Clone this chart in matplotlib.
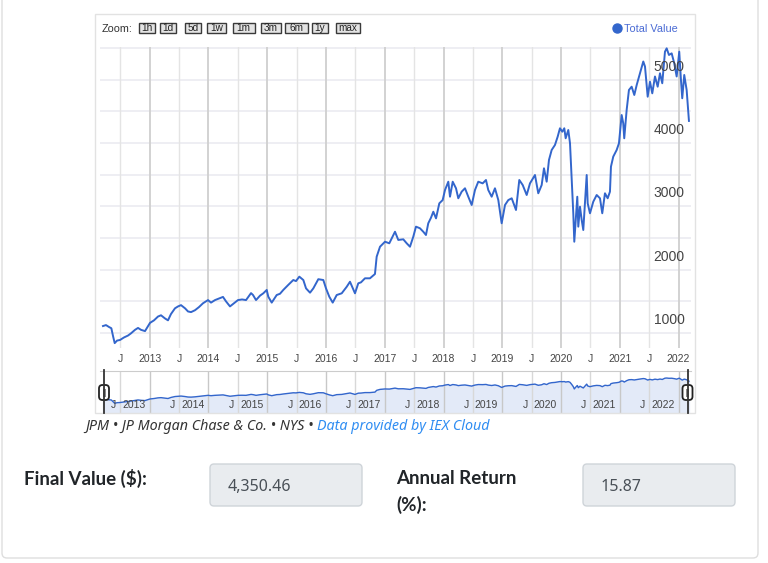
import matplotlib
matplotlib.use("Agg")
import matplotlib.pyplot as plt
from matplotlib.patches import Rectangle, FancyBboxPatch

# Total value of the JPM position, x in decimal years
years = [
    2012.205, 2012.256, 2012.307, 2012.347, 2012.376, 2012.404, 2012.444, 2012.495,
    2012.563, 2012.631, 2012.682, 2012.750, 2012.801, 2012.852, 2012.920, 2013.005,
    2013.073, 2013.141, 2013.192, 2013.260, 2013.311, 2013.362, 2013.430, 2013.482,
    2013.533, 2013.601, 2013.652, 2013.703, 2013.771, 2013.839, 2013.907, 2013.992,
    2014.043, 2014.111, 2014.179, 2014.247, 2014.298, 2014.366, 2014.434, 2014.502,
    2014.571, 2014.639, 2014.724, 2014.758, 2014.809, 2014.877, 2014.933, 2014.991,
    2015.018, 2015.076, 2015.161, 2015.217, 2015.273, 2015.358, 2015.443, 2015.489,
    2015.546, 2015.614, 2015.660, 2015.728, 2015.784, 2015.869, 2015.954, 2016.000,
    2016.056, 2016.114, 2016.182, 2016.267, 2016.352, 2016.408, 2016.493, 2016.549,
    2016.595, 2016.663, 2016.748, 2016.833, 2016.862, 2016.919, 2017.004, 2017.077,
    2017.118, 2017.174, 2017.230, 2017.315, 2017.373, 2017.429, 2017.485, 2017.531,
    2017.599, 2017.655, 2017.701, 2017.740, 2017.786, 2017.826, 2017.872, 2017.928,
    2017.985, 2018.025, 2018.081, 2018.110, 2018.156, 2018.212, 2018.251, 2018.309,
    2018.365, 2018.421, 2018.479, 2018.535, 2018.591, 2018.666, 2018.722, 2018.761,
    2018.819, 2018.875, 2018.932, 2018.989, 2019.046, 2019.102, 2019.160, 2019.233,
    2019.289, 2019.347, 2019.415, 2019.471, 2019.556, 2019.612, 2019.670, 2019.709,
    2019.755, 2019.794, 2019.840, 2019.896, 2019.942, 2019.981, 2020.021, 2020.055,
    2020.078, 2020.123, 2020.152, 2020.181, 2020.208, 2020.225, 2020.249, 2020.276,
    2020.293, 2020.322, 2020.351, 2020.378, 2020.407, 2020.436, 2020.453, 2020.492,
    2020.548, 2020.606, 2020.662, 2020.701, 2020.747, 2020.793, 2020.832, 2020.849,
    2020.888, 2020.946, 2020.985, 2021.031, 2021.058, 2021.075, 2021.116, 2021.155,
    2021.201, 2021.246, 2021.287, 2021.343, 2021.399, 2021.428, 2021.474, 2021.513,
    2021.552, 2021.598, 2021.644, 2021.683, 2021.722, 2021.768, 2021.797, 2021.836,
    2021.882, 2021.926, 2021.967, 2022.011, 2022.040, 2022.062, 2022.096, 2022.137,
    2022.154, 2022.176,
]
values = [
    1110, 1125, 1095, 1075, 950, 840, 880, 890,
    930, 960, 995, 1050, 1080, 1050, 1030, 1160,
    1200, 1260, 1280, 1230, 1200, 1300, 1390, 1420,
    1440, 1390, 1340, 1330, 1360, 1410, 1470, 1520,
    1480, 1520, 1545, 1570, 1500, 1420, 1470, 1520,
    1530, 1520, 1630, 1600, 1520, 1590, 1627, 1680,
    1573, 1480, 1600, 1620, 1680, 1760, 1837, 1820,
    1890, 1837, 1705, 1637, 1705, 1850, 1837, 1705,
    1573, 1480, 1600, 1627, 1730, 1810, 1627, 1785,
    1800, 1864, 1864, 1932, 2205, 2363, 2442, 2417,
    2496, 2600, 2470, 2480, 2417, 2363, 2521, 2680,
    2654, 2600, 2548, 2733, 2820, 2916, 2811, 3048,
    3100, 3259, 3390, 3153, 3390, 3286, 3128, 3233,
    3286, 3153, 3022, 3259, 3390, 3364, 3417, 3259,
    3153, 3286, 3100, 2733, 3022, 3100, 3128, 2943,
    3417, 3338, 3180, 3364, 3496, 3207, 3338, 3602,
    3390, 3733, 3891, 3970, 4101, 4234, 4180, 4234,
    4076, 4207, 3997, 3417, 2891, 2442, 2785, 3153,
    2680, 2995, 2785, 2627, 3048, 3496, 3048, 2891,
    3074, 3180, 3128, 2891, 3207, 3128, 3233, 3628,
    3786, 3891, 3997, 4444, 4313, 4076, 4523, 4839,
    4891, 4760, 4918, 5103, 5289, 5210, 4733, 4970,
    4786, 5052, 4891, 5103, 4945, 5444, 5497, 5392,
    5418, 5260, 5052, 5444, 4997, 4708, 5076, 4839,
    4629, 4350.46,
]

tick_years = list(range(2013, 2023))
y_labels = [1000, 2000, 3000, 4000, 5000]
zoom_buttons = ["1h", "1d", "5d", "1w", "1m", "3m", "6m", "1y", "max"]
final_value = "4,350.46"
annual_return = "15.87"

W, H = 768, 563
LINE = "#3366cc"
CHART_FONT = "Liberation Sans"
PAGE_FONT = "Noto Sans"
BOLD_FONT = ["Lato", "Liberation Sans"]


def frac(x0, y0, x1, y1):
    # pixel box (top-left origin) -> figure fraction rect
    return [x0 / W, 1 - y1 / H, (x1 - x0) / W, (y1 - y0) / H]


fig = plt.figure(figsize=(W / 100, H / 100), dpi=100)
fig.patch.set_facecolor("white")

XMIN, XMAX = 2012.154, 2022.211

# main plot
ax = fig.add_axes(frac(100, 47, 691, 348))
ax.set_xlim(XMIN, XMAX)
ax.set_ylim(763, 5518)
for s in ax.spines.values():
    s.set_visible(False)
for v in range(1000, 5501, 500):
    ax.axhline(v, color="#ededf2", lw=1.3, zorder=1)
for yr in tick_years:
    ax.axvline(yr, color="#cfcfcf", lw=1.3, zorder=1)
for yr in range(2012, 2022):
    ax.axvline(yr + 0.5, color="#e4e4e4", lw=1.0, zorder=1)
ax.plot(years, values, color=LINE, lw=1.4, zorder=3)

xt, xl = [], []
for yr in range(2012, 2022):
    xt += [yr + 0.5, yr + 1]
    xl += ["J", str(yr + 1)]
ax.set_xticks(xt, xl)
ax.set_yticks([])
ax.tick_params(axis="x", length=0, pad=4, labelsize=7.5, labelcolor="#444444")
for lab in ax.get_xticklabels():
    lab.set_fontfamily(CHART_FONT)

for v in y_labels:
    ax.annotate(str(v), xy=(0.989, v), xycoords=("axes fraction", "data"),
                xytext=(0, 13), textcoords="offset pixels",
                ha="right", va="center", fontsize=10, color="#444444",
                family=CHART_FONT, zorder=4)

# navigator
nav = fig.add_axes(frac(100, 371, 691, 413))
nav.set_xlim(XMIN, XMAX)
nav.set_yscale("log")
nav.set_ylim(409, 9270)
nav.set_xticks([])
nav.set_yticks([])
nav.minorticks_off()
for s in nav.spines.values():
    s.set_visible(False)
nav.spines["top"].set_visible(True)
nav.spines["top"].set_color("#cccccc")
for yr in tick_years:
    nav.axvline(yr, color="#c8c8c8", lw=1.0, zorder=1)
for yr in range(2012, 2022):
    nav.axvline(yr + 0.5, color="#d8d8d8", lw=1.0, zorder=1)
nav.fill_between(years, values, 100, color="#e3eaf8", zorder=0)
nav.plot(years, values, color=LINE, lw=1.0, zorder=2)
for yr in range(2012, 2022):
    for pos, txt in ((yr + 0.5, "J"), (yr + 1, str(yr + 1))):
        nav.annotate(txt, xy=(pos, 0.18), xycoords=("data", "axes fraction"),
                     xytext=(-4, 0), textcoords="offset pixels",
                     ha="right", va="center", fontsize=7.5, color="#444444",
                     family=CHART_FONT)

# overlay for frame, controls and page text
ov = fig.add_axes([0, 0, 1, 1], zorder=10)
ov.set_xlim(0, W)
ov.set_ylim(H, 0)
ov.axis("off")
ov.patch.set_alpha(0)

ov.add_patch(FancyBboxPatch((2, -10), 756, 568, boxstyle="round,pad=0,rounding_size=5",
                            fc="none", ec="#dedede", lw=1.0))
ov.add_patch(Rectangle((95, 14), 600, 399, fc="none", ec="#e2e2e2", lw=1.0))

ov.text(102, 28.5, "Zoom:", fontsize=7.8, color="#333333", va="center", family=CHART_FONT)
btn_x = [138.5, 159.5, 184.5, 207, 233, 261, 284.5, 312, 336]
btn_w = [16, 16.5, 16.5, 19, 21.5, 19.5, 23, 16, 24]
for bx, bw, lab in zip(btn_x, btn_w, zoom_buttons):
    ov.add_patch(Rectangle((bx, 22.5), bw, 10.5, fc="#e4e4e4", ec="#3a3a3a", lw=1.0))
    ov.text(bx + bw / 2, 28, lab, fontsize=7.2, color="#222222", ha="center",
            va="center", family=CHART_FONT)

ov.plot([617], [28], "o", color=LINE, ms=6.5)
ov.text(623.5, 28.5, "Total Value", fontsize=7.8, color="#4a6bd4", va="center",
        family=CHART_FONT)

# navigator handles
for hx in (104, 687.5):
    ov.plot([hx, hx], [370, 413], color="#333333", lw=1.3)
    ov.add_patch(FancyBboxPatch((hx - 5, 385), 10, 15,
                                boxstyle="round,pad=0,rounding_size=3.5",
                                fc="white", ec="#222222", lw=1.3))
    ov.add_patch(Rectangle((hx - 1.5, 388.5), 3, 8, fc="#8a8a8a", ec="none"))

cap = ov.text(85, 427, "JPM \u2022 JP Morgan Chase & Co. \u2022 NYS \u2022 ", fontsize=10.3,
              style="italic", color="#333333", va="center", family=PAGE_FONT)
fig.canvas.draw()
cap_end = cap.get_window_extent().x1
ov.annotate("Data provided by IEX Cloud", xy=(cap_end / W, 427),
            xycoords=("figure fraction", "data"),
            fontsize=10.3, style="italic", color="#2f8df2", va="center", family=PAGE_FONT)

ov.text(24, 478, "Final Value ($):", fontsize=13.5, fontweight="bold", color="#212529",
        va="center", family=BOLD_FONT)
ov.text(396, 478, "Annual Return", fontsize=13.5, fontweight="bold", color="#212529",
        va="center", family=BOLD_FONT)
ov.text(396, 505, "(%):", fontsize=13.5, fontweight="bold", color="#212529",
        va="center", family=BOLD_FONT)

for bx, txt in ((210, final_value), (583, annual_return)):
    ov.add_patch(FancyBboxPatch((bx, 464), 152, 42, boxstyle="round,pad=0,rounding_size=4",
                                fc="#e9ecef", ec="#cfd4d9", lw=1.0))
    ov.text(bx + 18, 487, txt, fontsize=11.5, color="#495057", va="center", family=PAGE_FONT)

fig.savefig("out.png", dpi=100, facecolor="white")
